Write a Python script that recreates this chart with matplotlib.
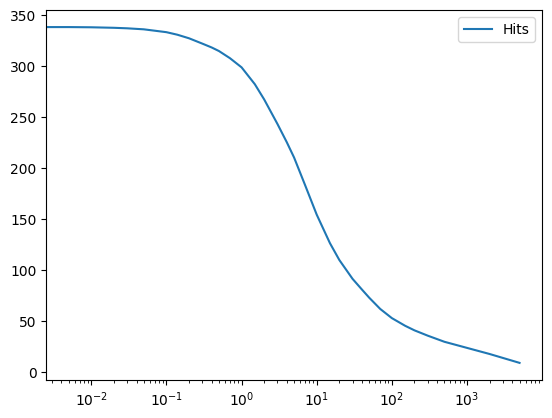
import matplotlib
matplotlib.use('Agg')
import matplotlib.pyplot as plt

# values (x on log scale, x=0 sits off the left edge)
x = [0, 0.005, 0.01, 0.02, 0.03, 0.05, 0.1, 0.14, 0.2, 0.3, 0.4, 0.5, 0.7,
     1, 1.5, 2, 3, 4, 5, 7, 10, 15, 20, 30, 40, 50, 70,
     100, 150, 200, 300, 500, 1000, 2000, 5000]
hits = [338.2, 338.0, 337.8, 337.3, 336.8, 335.8, 333.0, 330.5, 327.0, 321.8,
        318.0, 314.5, 307.5,
        298.5, 282.0, 267.0, 243.0, 225.0, 210.0, 183.0, 154.0, 126.0, 109.5,
        91.0, 80.5, 72.5, 61.5,
        52.5, 45.0, 40.5, 35.3, 29.3, 23.3, 17.3, 8.6]

fig, ax = plt.subplots()
ax.plot(x, hits, label='Hits')
ax.set_xscale('log')
ax.legend()
fig.savefig('out.png', bbox_inches='tight')
